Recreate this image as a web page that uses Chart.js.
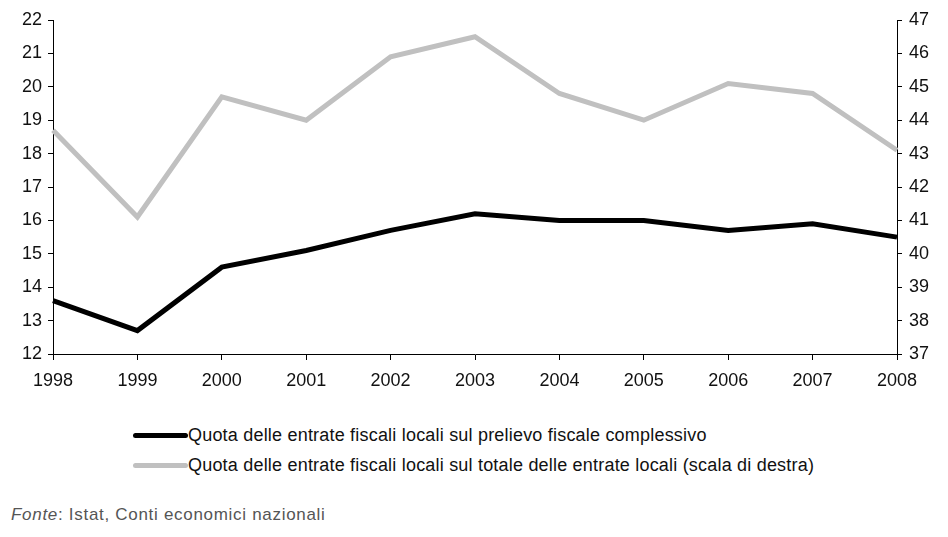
<!DOCTYPE html>
<html>
<head>
<meta charset="utf-8">
<script src="https://cdn.jsdelivr.net/npm/chart.js@4"></script>
<style>
  body { margin: 0; background: #fff; font-family: "Liberation Sans", Arial, sans-serif; }
  #wrap { position: relative; width: 948px; height: 537px; }
  #chartBox { position: absolute; left: 0; top: 0; width: 948px; height: 400px; }
  .leg { position: absolute; left: 133px; font-size: 18px; letter-spacing: 0.2px; color: #111; white-space: nowrap; }
  .leg span.sw { display: inline-block; width: 55px; height: 5px; border-radius: 3px; vertical-align: middle; position: relative; top: -1px; }
  #note { position: absolute; left: 11px; top: 505px; font-size: 17px; letter-spacing: 0.7px; color: #555; }
</style>
</head>
<body>
<div id="wrap">
  <div id="chartBox"><canvas id="LineChart"></canvas></div>
  <div class="leg" style="top:425px"><span class="sw" style="background:#000"></span>Quota delle entrate fiscali locali sul prelievo fiscale complessivo</div>
  <div class="leg" style="top:455px"><span class="sw" style="background:#c0c0c0"></span>Quota delle entrate fiscali locali sul totale delle entrate locali (scala di destra)</div>
  <div id="note"><i>Fonte</i>: Istat, Conti economici nazionali</div>
</div>
<script>
const years = ['1998', '1999', '2000', '2001', '2002', '2003', '2004', '2005', '2006', '2007', '2008'];
const quota_prelievo = [13.6, 12.7, 14.6, 15.1, 15.7, 16.2, 16.0, 16.0, 15.7, 15.9, 15.5];
const quota_entrate = [43.7, 41.1, 44.7, 44.0, 45.9, 46.5, 44.8, 44.0, 45.1, 44.8, 43.1];
const left_range = [12, 22];
const right_range = [37, 47];

const line_data = {
    labels: years,
    datasets: [{
        label: 'Quota delle entrate fiscali locali sul totale delle entrate locali (scala di destra)',
        data: quota_entrate,
        borderColor: '#c0c0c0',
        backgroundColor: '#c0c0c0',
        borderWidth: 5,
        pointRadius: 0,
        yAxisID: 'y2'
    }, {
        label: 'Quota delle entrate fiscali locali sul prelievo fiscale complessivo',
        data: quota_prelievo,
        borderColor: '#000',
        backgroundColor: '#000',
        borderWidth: 5,
        pointRadius: 0,
        yAxisID: 'y'
    }]
};

const tickFont = { family: '"Liberation Sans", Arial, sans-serif', size: 18 };

const configLine = {
    type: 'line',
    data: line_data,
    options: {
        responsive: true,
        maintainAspectRatio: false,
        animation: false,
        layout: { padding: { top: 20, left: 0, right: 0, bottom: 0 } },
        plugins: {
            legend: { display: false },
            tooltip: { enabled: false }
        },
        scales: {
            x: {
                grid: { drawOnChartArea: false, tickLength: 6, color: '#000' },
                border: { color: '#000', width: 1 },
                ticks: { color: '#111', font: tickFont, padding: 10, maxRotation: 0 },
                afterFit: (s) => { s.height = 46; }
            },
            y: {
                position: 'left',
                min: left_range[0],
                max: left_range[1],
                grid: { drawOnChartArea: false, tickLength: 5, color: '#000' },
                border: { color: '#000', width: 1 },
                ticks: { stepSize: 1, color: '#111', font: tickFont, padding: 6 },
                afterFit: (s) => { s.width = 53; }
            },
            y2: {
                position: 'right',
                min: right_range[0],
                max: right_range[1],
                grid: { drawOnChartArea: false, tickLength: 5, color: '#000' },
                border: { color: '#000', width: 1 },
                ticks: { stepSize: 1, color: '#111', font: tickFont, padding: 7 },
                afterFit: (s) => { s.width = 51; }
            }
        }
    }
};

const LineChart = new Chart(
    document.getElementById('LineChart'),
    configLine
);
</script>
</body>
</html>
